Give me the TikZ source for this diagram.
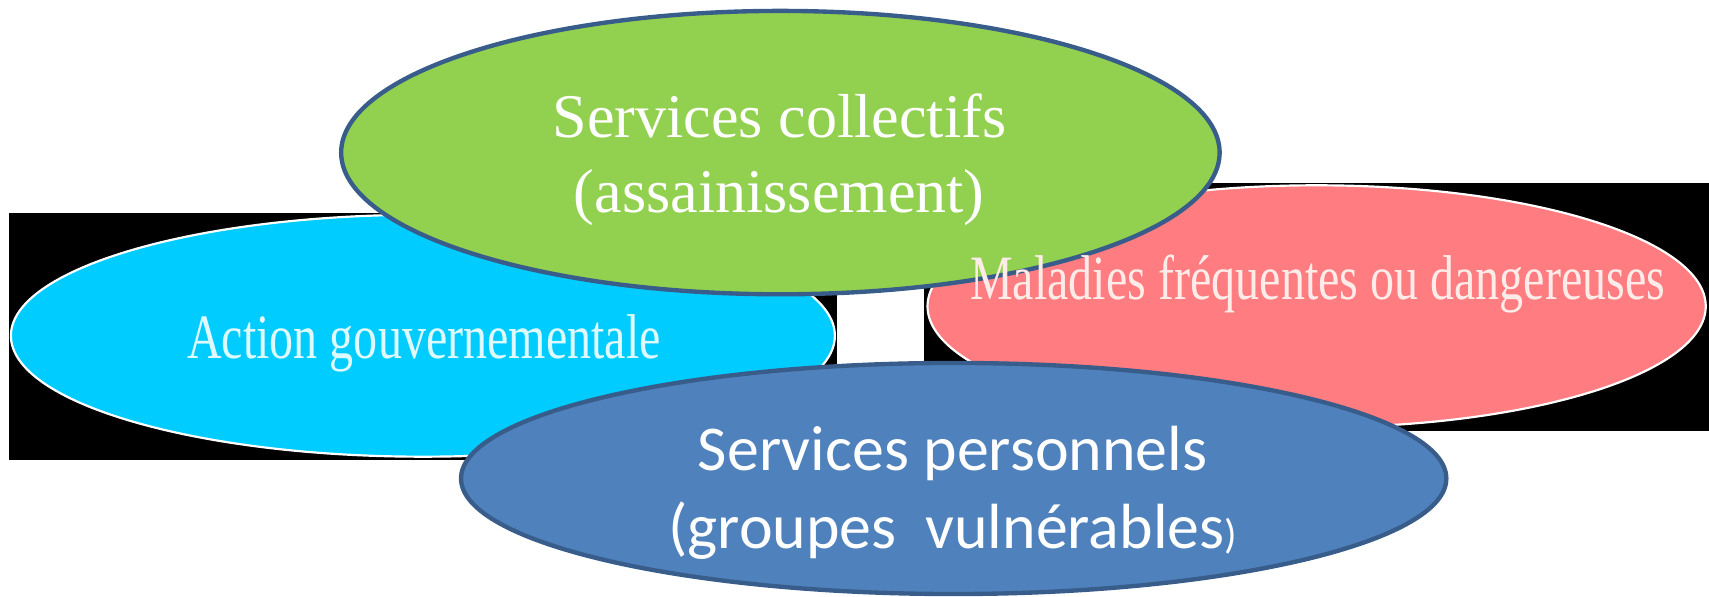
\documentclass[tikz,border=0pt]{standalone}
\usepackage{fontspec}
\setmainfont{Liberation Serif}
\newfontfamily\serifnarrow[FakeStretch=0.76]{Liberation Serif}
\newfontfamily\calibrifont{Carlito}
\usetikzlibrary{shapes.geometric}
\definecolor{cyanfill}{RGB}{0,204,255}
\definecolor{pinkfill}{RGB}{255,124,128}
\definecolor{greenfill}{RGB}{146,208,80}
\definecolor{bluefill}{RGB}{79,129,189}
\definecolor{darkborder}{RGB}{56,93,138}
\definecolor{palecyan}{RGB}{222,250,255}
\definecolor{palepink}{RGB}{255,236,232}

\tikzset{every picture/.style={line width=0.75pt}}
\tikzset{
  softoval/.style={ellipse, draw=white, line width=1pt, inner sep=0pt},
  boldoval/.style={ellipse, draw=darkborder, line width=2pt, inner sep=0pt},
  ovaltext/.style={inner sep=0pt, align=center},
}

\begin{document}
\begin{tikzpicture}[x=0.5pt,y=0.5pt,yscale=-1,xscale=1]
\useasboundingbox (0,0) rectangle (1568,547);

%Shape: Rectangle
\fill [black] (8,195) rectangle (768,422);
%Shape: Ellipse
\node (actgouv) [softoval, fill=cyanfill, minimum width=378pt, minimum height=111pt] at (388,308) {};

%Shape: Rectangle
\fill [black] (848,168) rectangle (1568,395);
%Shape: Ellipse
\node (maladies) [softoval, fill=pinkfill, minimum width=357pt, minimum height=111pt] at (1208,281) {};

%Shape: Ellipse
\node (collectifs) [boldoval, fill=greenfill, minimum width=403pt, minimum height=130pt] at (716,140) {};
%Shape: Ellipse
\node (personnels) [boldoval, fill=bluefill, minimum width=452pt, minimum height=106pt] at (875,439) {};

% Text Node
\node (actgouvtext) [ovaltext, text=palecyan, font=\serifnarrow\fontsize{29}{32}\selectfont] at (389,315) {Action gouvernementale};
% Text Node
\node (maladiestext) [ovaltext, text=palepink, font=\serifnarrow\fontsize{29}{32}\selectfont] at (1209,261) {Maladies fréquentes ou dangereuses};
% Text Node
\node (collectifstext) [ovaltext, text=white, font=\fontsize{28.5}{34.4}\selectfont] at (715,147) {Services collectifs\\(assainissement)};
% Text Node
\node (personnelstext) [ovaltext, text=white, font=\calibrifont\fontsize{29.3}{36}\selectfont] at (874,452) {Services personnels\\(groupes\ \ vulnérables{\fontsize{19}{20}\selectfont)}};

\end{tikzpicture}
\end{document}
